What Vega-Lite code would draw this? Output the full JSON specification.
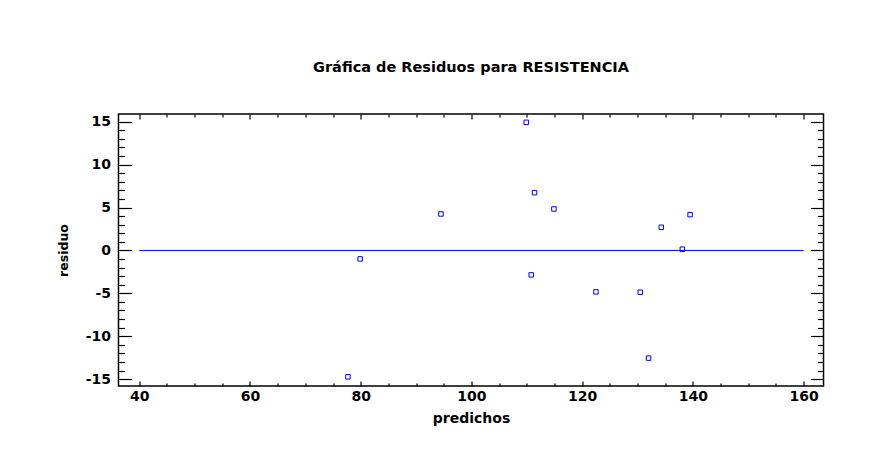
{
  "$schema": "https://vega.github.io/schema/vega-lite/v6.json",
  "width": 705,
  "height": 272,
  "autosize": {"type": "none"},
  "padding": {"left": 118.5, "top": 114, "right": 58.5, "bottom": 82},
  "background": "white",
  "title": {
    "text": "Gráfica de Residuos para RESISTENCIA",
    "font": "DejaVu Sans",
    "fontSize": 14.5,
    "fontWeight": "bold",
    "color": "black",
    "anchor": "middle",
    "offset": 38
  },
  "config": {
    "view": {"stroke": "black", "strokeWidth": 1.5},
    "axis": {
      "domain": false,
      "grid": false,
      "tickColor": "black",
      "tickWidth": 1.2,
      "labelFont": "DejaVu Sans",
      "labelFontSize": 14,
      "labelFontWeight": "bold",
      "labelColor": "black",
      "titleFont": "DejaVu Sans",
      "titleFontSize": 14,
      "titleFontWeight": "bold",
      "titleColor": "black"
    }
  },
  "resolve": {"axis": {"x": "independent", "y": "independent"}},
  "layer": [
    {
      "data": {
        "values": [
          {"predichos": 94.5, "residuo": 4.25},
          {"predichos": 109.9, "residuo": 14.93},
          {"predichos": 111.4, "residuo": 6.73},
          {"predichos": 114.9, "residuo": 4.83},
          {"predichos": 79.9, "residuo": -0.99},
          {"predichos": 110.8, "residuo": -2.85},
          {"predichos": 122.5, "residuo": -4.83},
          {"predichos": 130.5, "residuo": -4.87},
          {"predichos": 132.0, "residuo": -12.55},
          {"predichos": 134.3, "residuo": 2.7},
          {"predichos": 138.1, "residuo": 0.14},
          {"predichos": 139.5, "residuo": 4.17},
          {"predichos": 77.7, "residuo": -14.73}
        ]
      },
      "mark": {"type": "point", "shape": "square", "filled": false, "size": 20, "stroke": "#0000ff", "strokeWidth": 1, "opacity": 1},
      "encoding": {
        "x": {
          "field": "predichos",
          "type": "quantitative",
          "scale": {"domain": [36.25, 163.6], "nice": false, "zero": false},
          "axis": {
            "orient": "bottom",
            "title": "predichos",
            "values": [40,45,50,55,60,65,70,75,80,85,90,95,100,105,110,115,120,125,130,135,140,145,150,155,160],
            "tickSize": {"condition": {"test": "datum.value % 20 === 0", "value": -5}, "value": -3},
            "labelExpr": "datum.value % 20 === 0 ? '' + datum.value : ''",
            "labelPadding": 8,
            "titlePadding": 8
          }
        },
        "y": {
          "field": "residuo",
          "type": "quantitative",
          "scale": {"domain": [-15.8, 15.9], "nice": false, "zero": false},
          "axis": {
            "orient": "left",
            "title": "residuo",
            "titleFontSize": 12.5,
            "values": [-15,-14,-13,-12,-11,-10,-9,-8,-7,-6,-5,-4,-3,-2,-1,0,1,2,3,4,5,6,7,8,9,10,11,12,13,14,15],
            "tickSize": {"condition": {"test": "datum.value % 5 === 0", "value": -13}, "value": -6},
            "labelExpr": "datum.value % 5 === 0 ? '' + datum.value : ''",
            "labelPadding": 21,
            "titlePadding": 15
          }
        }
      }
    },
    {
      "data": {"values": [{"desde": 40, "hasta": 160, "nivel": 0}]},
      "mark": {"type": "rule", "color": "#0000ff", "strokeWidth": 1},
      "encoding": {
        "x": {
          "field": "desde",
          "type": "quantitative",
          "axis": {
            "orient": "top",
            "title": null,
            "values": [40,45,50,55,60,65,70,75,80,85,90,95,100,105,110,115,120,125,130,135,140,145,150,155,160],
            "tickSize": {"condition": {"test": "datum.value % 20 === 0", "value": -5}, "value": -3},
            "labels": false
          }
        },
        "x2": {"field": "hasta"},
        "y": {
          "field": "nivel",
          "type": "quantitative",
          "axis": {
            "orient": "right",
            "title": null,
            "values": [-15,-14,-13,-12,-11,-10,-9,-8,-7,-6,-5,-4,-3,-2,-1,0,1,2,3,4,5,6,7,8,9,10,11,12,13,14,15],
            "tickSize": {"condition": {"test": "datum.value % 5 === 0", "value": -13}, "value": -6},
            "labels": false
          }
        }
      }
    }
  ]
}
